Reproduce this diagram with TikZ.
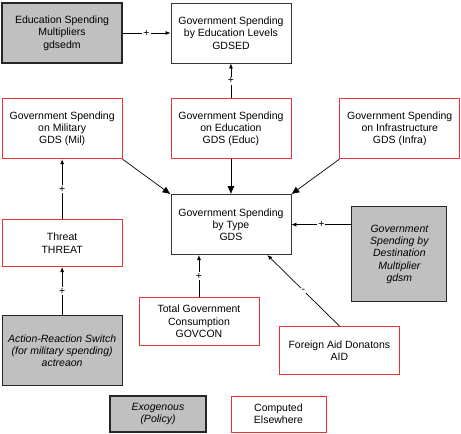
\documentclass[tikz,border=0pt]{standalone}
\usepackage{fontspec}
\setmainfont{Liberation Sans}
\usetikzlibrary{arrows.meta,positioning}
\definecolor{exogray}{RGB}{192,192,192}
\definecolor{compred}{RGB}{238,50,50}
\definecolor{boxline}{RGB}{55,55,55}
\newcommand{\boxfont}{\fontsize{10.5}{12.3}\selectfont}

\begin{document}
\begin{tikzpicture}[x=1pt,y=-1pt,>={Latex[length=5pt,width=4pt]},node distance=48pt,
  var/.style={draw=boxline,fill=white,align=center,font=\boxfont,minimum width=120pt,minimum height=60pt,inner sep=2pt,line width=0.8pt},
  exo/.style={var,fill=exogray,draw=black!85,line width=1.1pt},
  comp/.style={var,draw=compred},
  big/.style={-{Latex[length=8pt,width=7pt]}},
  sign/.style={fill=white,inner sep=1pt,font=\boxfont}]

\useasboundingbox (0,0) rectangle (461,434);

\node[exo]   (gdsedm)   at (62,33)      {Education Spending\\Multipliers\\gdsedm};
\node[var]   (gdsed)    [right=of gdsedm]  {Government Spending\\by Education Levels\\GDSED};

\node[comp]  (educ)     [below=35pt of gdsed]  {Government Spending\\on Education\\GDS (Educ)};
\node[comp]  (mil)      [left=of educ]   {Government Spending\\on Military\\GDS (Mil)};
\node[comp]  (infra)    [right=of educ]  {Government Spending\\on Infrastructure\\GDS (Infra)};

\node[var]   (gds)      [below=35pt of educ]  {Government Spending\\by Type\\GDS};

\node[comp,minimum height=47pt]  (threat)  [below=60pt of mil]  {Threat\\THREAT};
\node[exo,minimum height=70pt,font=\boxfont\itshape]  (actreaon)  [below=of threat]
      {Action-Reaction Switch\\(for military spending)\\actreaon};

\node[exo,minimum width=95pt,minimum height=95pt,font=\boxfont\itshape]  (gdsm)
      [below right=12pt and 60pt of gds.north east]
      {Government\\Spending by\\Destination\\Multiplier\\gdsm};

\node[comp,minimum height=48pt]  (govcon)  [below=42pt of gds,xshift=-32pt]
      {Total Government\\Consumption\\GOVCON};
\node[comp,minimum height=48pt]  (aid)     [below=71pt of gds.south east,xshift=48pt]
      {Foreign Aid Donatons\\AID};

% legend
\node[exo,minimum width=96pt,minimum height=36pt,font=\boxfont\itshape]  (exokey)  at (158,414)
      {Exogenous\\(Policy)};
\node[comp,minimum width=95pt,minimum height=36pt]  (compkey)  [right=24pt of exokey]
      {Computed\\Elsewhere};

\path[->,line width=0.7pt] (gdsedm)  edge  node[sign]{+}  (gdsed)
(educ)  edge  node[sign]{+}  (gdsed)
(threat)  edge  node[sign]{+}  (mil)
(actreaon)  edge  node[sign]{+}  (threat)
(gdsm.west |- gds.east)  edge  node[sign]{+}  (gds.east)
(govcon)  edge  node[sign]{+}  (govcon |- gds.south)
(aid.north)  edge  node[sign]{-}  ([xshift=-24pt]gds.south east);

\path[big,line width=0.7pt] (educ)  edge  (gds)
(mil.south east)  edge  (gds.north west)
(infra.south west)  edge  (gds.north east);

\end{tikzpicture}
\end{document}
